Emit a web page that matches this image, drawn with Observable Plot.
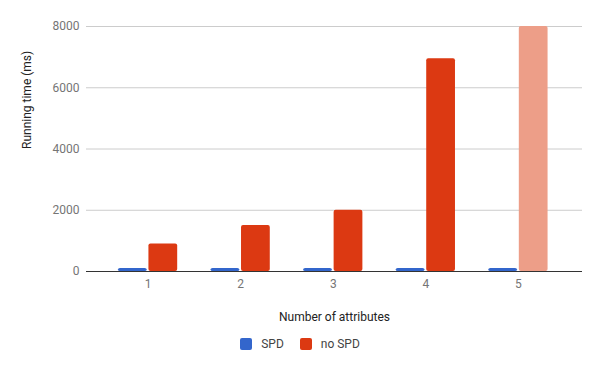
<!DOCTYPE html>
<html>
<head>
<meta charset="utf-8">
<script src="https://cdn.jsdelivr.net/npm/d3@7"></script>
<script src="https://cdn.jsdelivr.net/npm/@observablehq/plot@0.6"></script>
<style>
  body { margin: 0; background: #fff; font-family: Roboto, sans-serif; }
  #legend { display: flex; justify-content: center; align-items: center; font-size: 12px; color: #444; margin-top: 7px; }
  .item { display: flex; align-items: center; margin: 0 8px; }
  .sw { width: 12px; height: 12px; border-radius: 2px; margin-right: 9px; }
</style>
</head>
<body>
<div id="chart"></div>
<div id="legend"></div>
<script>
const categories = ["1", "2", "3", "4", "5"];
const seriesNames = ["SPD", "no SPD"];
const spd = [100, 100, 100, 100, 100];
const noSpd = [900, 1500, 2000, 6950, 8000];
const yTicks = [0, 2000, 4000, 6000, 8000];
const xLabel = "Number of attributes";
const yLabel = "Running time (ms)";

const colors = { "SPD": "#3366CC", "no SPD": "#DC3912" };
const clippedColor = "#ED9E88";

const spdData = categories.map((c, i) => ({ cat: c, value: spd[i] }));
const noSpdData = categories.map((c, i) => ({ cat: c, value: noSpd[i], clipped: noSpd[i] >= 8000 }));

const chart = Plot.plot({
  width: 600,
  height: 330,
  marginLeft: 86,
  marginRight: 18,
  marginTop: 26,
  marginBottom: 59,
  style: { fontFamily: "Roboto, sans-serif", fontSize: "12px", color: "#757575", background: "#fff" },
  x: { domain: categories, range: [84.5, 581], round: false, paddingInner: 0.36, paddingOuter: 0.361, label: null, tickSize: 0, tickPadding: 8 },
  y: { domain: [0, 8000], ticks: yTicks, tickFormat: d => String(d), label: null, tickSize: 0, tickPadding: 7 },
  marks: [
    Plot.ruleY(yTicks.filter(t => t > 0), { stroke: "#cccccc", strokeWidth: 1 }),
    Plot.barY(spdData, { x: "cat", y: "value", fill: colors["SPD"], insetRight: 30.5, rx: 2 }),
    Plot.barY(noSpdData, { x: "cat", y: "value", fill: d => d.clipped ? clippedColor : colors["no SPD"], insetLeft: 30.5, rx: 2 }),
    Plot.ruleY([0], { stroke: "#333333", strokeWidth: 1 }),
    Plot.text([xLabel], { frameAnchor: "bottom", dy: 49, fill: "#222", fontSize: 12 }),
    Plot.text([yLabel], { frameAnchor: "left", dx: -59, rotate: -90, fill: "#222", fontSize: 12 })
  ]
});
document.getElementById("chart").appendChild(chart);

const legend = document.getElementById("legend");
seriesNames.forEach(name => {
  const item = document.createElement("div");
  item.className = "item";
  const sw = document.createElement("div");
  sw.className = "sw";
  sw.style.background = colors[name];
  const label = document.createElement("span");
  label.textContent = name;
  item.appendChild(sw);
  item.appendChild(label);
  legend.appendChild(item);
});
</script>
</body>
</html>
